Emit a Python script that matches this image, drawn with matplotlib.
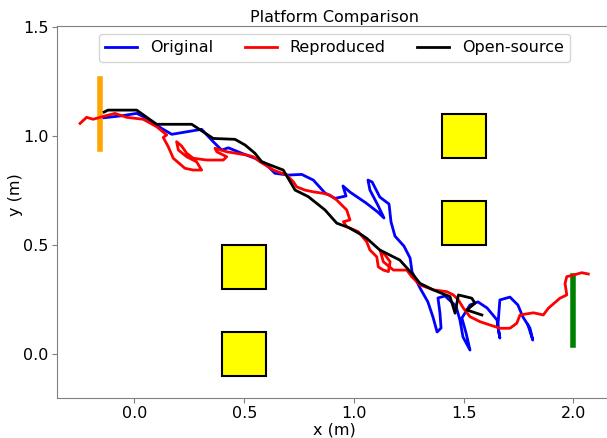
import matplotlib
matplotlib.use("Agg")
import matplotlib.pyplot as plt
from matplotlib.patches import Rectangle

# ==== Trajectories ==== #
orig_x = [-0.139, -0.058, 0.010, 0.056, 0.124, 0.170, 0.306, 0.359, 0.397, 0.428,
          0.489, 0.549, 0.595, 0.640, 0.701, 0.762, 0.815, 0.868, 0.914, 0.964,
          0.950, 0.982, 1.055, 1.109, 1.137, 1.109, 1.073, 1.064, 1.083, 1.118,
          1.160, 1.169, 1.187, 1.228, 1.256, 1.265, 1.301, 1.337, 1.360, 1.379,
          1.397, 1.392, 1.383, 1.415, 1.465, 1.483, 1.497, 1.529, 1.511, 1.492,
          1.529, 1.565, 1.607, 1.652, 1.665, 1.656, 1.665, 1.711, 1.747, 1.770,
          1.802, 1.815, 1.793]
orig_y = [1.084, 1.093, 1.104, 1.081, 1.035, 1.008, 1.031, 0.974, 0.936, 0.946,
          0.921, 0.898, 0.875, 0.829, 0.821, 0.824, 0.798, 0.739, 0.714, 0.725,
          0.771, 0.743, 0.693, 0.651, 0.624, 0.683, 0.752, 0.798, 0.789, 0.720,
          0.688, 0.606, 0.541, 0.495, 0.440, 0.376, 0.303, 0.239, 0.170, 0.101,
          0.119, 0.188, 0.257, 0.266, 0.220, 0.156, 0.078, 0.018, 0.096, 0.165,
          0.225, 0.239, 0.211, 0.156, 0.073, 0.128, 0.248, 0.261, 0.225, 0.170,
          0.119, 0.064, 0.133]

repr_x = [-0.248, -0.218, -0.188, -0.157, -0.089, -0.036, 0.040, 0.101, 0.147, 0.131,
          0.154, 0.177, 0.230, 0.268, 0.306, 0.283, 0.238, 0.200, 0.192, 0.215,
          0.238, 0.268, 0.329, 0.405, 0.420, 0.375, 0.367, 0.420, 0.511, 0.541,
          0.572, 0.633, 0.694, 0.724, 0.739, 0.777, 0.815, 0.861, 0.891, 0.922,
          0.967, 0.982, 0.952, 0.967, 1.020, 1.058, 1.073, 1.104, 1.111, 1.134,
          1.157, 1.165, 1.142, 1.119, 1.134, 1.180, 1.241, 1.263, 1.301, 1.362,
          1.423, 1.453, 1.476, 1.499, 1.529, 1.575, 1.620, 1.666, 1.711, 1.742,
          1.757, 1.818, 1.863, 1.886, 1.939, 1.970, 1.962, 1.970, 2.000, 2.038,
          2.068]
repr_y = [1.058, 1.086, 1.077, 1.086, 1.104, 1.086, 1.077, 1.043, 1.005, 0.994,
          0.951, 0.898, 0.852, 0.844, 0.844, 0.882, 0.905, 0.936, 0.974, 0.954,
          0.921, 0.898, 0.890, 0.890, 0.905, 0.928, 0.944, 0.928, 0.913, 0.905,
          0.882, 0.844, 0.821, 0.790, 0.767, 0.752, 0.744, 0.737, 0.729, 0.706,
          0.661, 0.615, 0.607, 0.584, 0.561, 0.515, 0.477, 0.446, 0.400, 0.385,
          0.378, 0.423, 0.454, 0.477, 0.423, 0.385, 0.385, 0.355, 0.317, 0.294,
          0.286, 0.271, 0.248, 0.210, 0.171, 0.148, 0.133, 0.118, 0.118, 0.141,
          0.179, 0.189, 0.179, 0.210, 0.256, 0.271, 0.324, 0.355, 0.362, 0.373,
          0.367]

open_x = [-0.138, -0.121, 0.010, 0.101, 0.261, 0.359, 0.458, 0.504, 0.549, 0.580,
          0.678, 0.732, 0.792, 0.868, 0.922, 0.974, 1.036, 1.058, 1.118, 1.209,
          1.271, 1.301, 1.362, 1.438, 1.461, 1.476, 1.537, 1.552, 1.514, 1.583]
open_y = [1.110, 1.119, 1.119, 1.054, 1.054, 0.989, 0.985, 0.959, 0.921, 0.882,
          0.844, 0.752, 0.722, 0.661, 0.600, 0.581, 0.546, 0.531, 0.477, 0.431,
          0.362, 0.324, 0.294, 0.263, 0.187, 0.271, 0.256, 0.233, 0.202, 0.179]

# ==== Obstacles and start / goal markers ==== #
box_x = [0.4, 0.4, 1.4, 1.4]     # lower-left corners
box_y = [0.3, -0.1, 0.9, 0.5]
box_size = 0.2

start_x, start_y = -0.155, 1.10
goal_x, goal_y = 2.0, 0.20
marker_half = 0.16

# ==== Plot ==== #
fs = 11.5
fig = plt.figure(figsize=(6.07, 4.38), dpi=100)
ax = fig.add_axes([57 / 607, 40 / 438, 555 / 607, 372 / 438])

for bx, by in zip(box_x, box_y):
    ax.add_patch(Rectangle((bx, by), box_size, box_size, facecolor="yellow",
                           edgecolor="black", linewidth=1.5, zorder=1))

ax.plot([start_x, start_x], [start_y - marker_half, start_y + marker_half],
        color="orange", linewidth=4, zorder=2)
ax.plot([goal_x, goal_x], [goal_y - marker_half, goal_y + marker_half],
        color="green", linewidth=4, zorder=2)

ax.plot(orig_x, orig_y, color="blue", linewidth=2, label="Original", zorder=3)
ax.plot(repr_x, repr_y, color="red", linewidth=2, label="Reproduced", zorder=4)
ax.plot(open_x, open_y, color="black", linewidth=2, label="Open-source", zorder=5)

ax.set_xlim(-0.353, 2.176)
ax.set_ylim(-0.202, 1.505)
ax.set_xticks([0.0, 0.5, 1.0, 1.5, 2.0])
ax.set_yticks([0.0, 0.5, 1.0, 1.5])
ax.tick_params(labelsize=fs, color="gray", pad=2.5)
for sp in ax.spines.values():
    sp.set_color("gray")
ax.spines["right"].set_visible(False)

ax.set_title("Platform Comparison", fontsize=fs, pad=3)
ax.set_xlabel("x (m)", fontsize=fs)
ax.set_ylabel("y (m)", fontsize=fs)
ax.xaxis.set_label_coords(0.5, -0.067)
ax.yaxis.set_label_coords(-0.061, 0.548)
ax.legend(loc="upper center", ncol=3, fontsize=fs)

fig.savefig("out.png", dpi=100)
